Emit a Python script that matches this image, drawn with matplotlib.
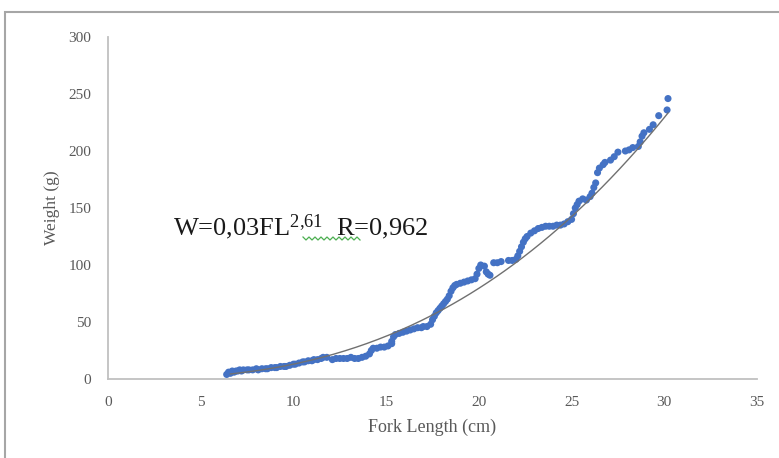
import matplotlib
matplotlib.use("Agg")
import matplotlib.pyplot as plt
from matplotlib.lines import Line2D
from matplotlib.patches import Rectangle
import numpy as np

# ---- data ----
fork_length = [6.4, 6.5, 6.6, 6.7, 6.8, 6.9, 7.0, 7.1, 7.2, 7.3, 7.5, 7.6, 7.8, 8.0, 8.1,
               8.3, 8.5, 8.6, 8.8, 9.0, 9.1, 9.3, 9.5, 9.6, 9.8, 10.0, 10.1, 10.3, 10.5,
               10.6, 10.8, 11.0, 11.1, 11.3, 11.5, 11.6, 11.8,
               12.1, 12.3, 12.5, 12.7, 12.9, 13.1, 13.3, 13.5, 13.7, 13.9, 14.1,
               14.2, 14.3, 14.5, 14.7, 14.9, 15.1, 15.3,
               15.3, 15.4, 15.5, 15.7, 15.9, 16.1, 16.3, 16.5, 16.7, 16.9,
               17.0, 17.2, 17.4, 17.5, 17.6, 17.7, 17.8, 17.9, 18.0, 18.1, 18.2, 18.3,
               18.4, 18.5, 18.6, 18.7, 18.8, 19.0, 19.2, 19.4, 19.6, 19.8, 19.9, 20.0,
               20.1, 20.3, 20.4, 20.5, 20.6, 20.8, 21.0, 21.2, 21.6, 21.8, 22.0, 22.1,
               22.2, 22.3, 22.4, 22.5, 22.6, 22.8, 23.0, 23.2, 23.4, 23.6, 23.8, 24.0,
               24.2, 24.4, 24.6, 24.8, 25.0, 25.1, 25.2, 25.3, 25.4, 25.6, 25.8, 26.0,
               26.1, 26.2, 26.3, 26.4, 26.5, 26.7, 26.8, 27.1, 27.3, 27.5, 27.9, 28.1,
               28.3, 28.6, 28.7, 28.8, 28.9, 29.2, 29.4, 29.7, 30.15, 30.2]
weight = [4, 6, 5, 7, 6, 7, 7, 8, 7, 8, 8, 8, 8, 9, 8,
          9, 9, 9, 10, 10, 10, 11, 11, 11, 12, 13, 13, 14, 15,
          15, 16, 16, 17, 17, 18, 19, 19,
          17, 18, 18, 18, 18, 19, 18, 18, 19, 20, 22,
          25, 27, 27, 28, 28, 29, 31,
          33, 37, 39, 40, 41, 42, 43, 44, 45, 45,
          46, 46, 48, 52, 55, 58, 60, 62, 64, 66, 68, 70,
          73, 77, 80, 82, 83, 84, 85, 86, 87, 88, 92, 97,
          100, 99, 94, 92, 91, 102, 102, 103, 104, 104, 105, 108,
          112, 116, 120, 123, 125, 128, 130, 132, 133, 134, 134, 134,
          135, 135, 136, 138, 140, 145, 150, 153, 156, 158, 157, 160,
          163, 168, 172, 181, 185, 188, 190, 192, 195, 199, 200, 201,
          203, 204, 208, 213, 216, 219, 223, 231, 236, 246]

fit_a = 0.032
fit_b = 2.61
fit_range = [6.6, 30.2]

x_ticks = [0, 5, 10, 15, 20, 25, 30, 35]
y_ticks = [0, 50, 100, 150, 200, 250, 300]

# ---- figure ----
W, H = 779, 458
fig = plt.figure(figsize=(W / 100, H / 100), dpi=100)
serif = ["Liberation Serif", "DejaVu Serif"]
plt.rcParams["mathtext.fontset"] = "custom"
plt.rcParams["mathtext.rm"] = "Liberation Serif"
plt.rcParams["mathtext.it"] = "Liberation Serif"

# outer frame (chart area border)
fig.patches.append(Rectangle((5 / W, -0.05), 1.2, 1 - 12 / H + 0.05,
                             transform=fig.transFigure, fill=False,
                             edgecolor="#a6a6a6", lw=1.5))

ax = fig.add_axes([108 / W, 1 - 379 / H, (757 - 108) / W, (379 - 37) / H])
ax.set_xlim(0, 35)
ax.set_ylim(0, 300)
ax.set_xticks(x_ticks)
ax.set_yticks(y_ticks)
for s in ["top", "right"]:
    ax.spines[s].set_visible(False)
for s in ["left", "bottom"]:
    ax.spines[s].set_color("#c0c0c0")
    ax.spines[s].set_linewidth(1.3)
ax.tick_params(length=0, labelsize=11, labelcolor="#595959")
ax.tick_params(axis="x", pad=12)
ax.tick_params(axis="y", pad=12)
for lab in ax.get_xticklabels() + ax.get_yticklabels():
    lab.set_family(serif)

ax.scatter(fork_length, weight, s=26, color="#4472C4", edgecolors="none",
           zorder=3, clip_on=False)

xf = np.linspace(fit_range[0], fit_range[1], 200)
ax.plot(xf, fit_a * xf ** fit_b, color="#707070", lw=1.0, zorder=4)

ax.set_xlabel("Fork Length (cm)", family=serif, fontsize=13, color="#595959",
              labelpad=7)
ax.set_ylabel("Weight (g)", family=serif, fontsize=12.5, color="#595959",
              labelpad=6)

fig.text(173 / W, 1 - 235 / H, r"W=0,03FL$^{2{,}61}$  R=0,962", family=serif,
         fontsize=19, color="#1a1a1a", va="baseline", ha="left")

# green spell-check squiggle under the equation
zx = np.arange(303, 361, 3)
zy = np.where((np.arange(len(zx)) % 2) == 0, 237, 240)
fig.lines.append(Line2D(zx / W, 1 - zy / H, transform=fig.transFigure,
                        color="#4caf50", lw=0.9))

fig.savefig("out.png", dpi=100)
